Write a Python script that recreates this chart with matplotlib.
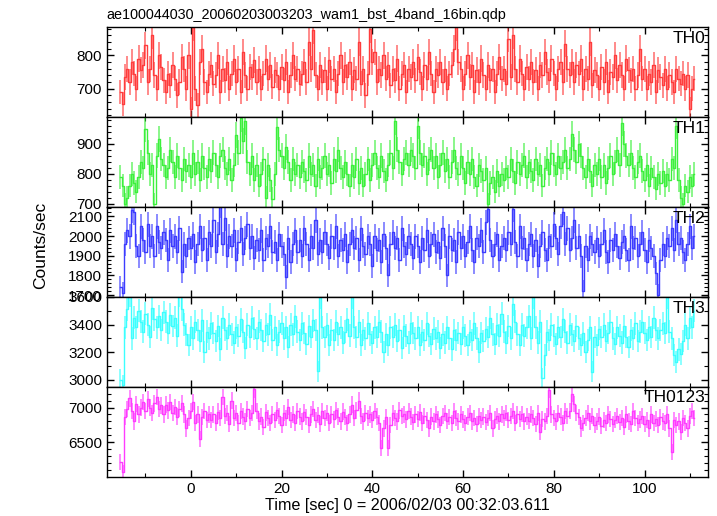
"""WAM burst light curve, 4 bands + sum, 0.5 s bins"""
import numpy as np
import matplotlib
matplotlib.use("Agg")
import matplotlib.pyplot as plt
from matplotlib.ticker import MultipleLocator

plt.rcParams['font.family'] = ['Liberation Sans', 'DejaVu Sans']

TITLE = "ae100044030_20060203003203_wam1_bst_4band_16bin.qdp"
XLABEL = "Time [sec] 0 = 2006/02/03 00:32:03.611"
T0 = -15.5   # first bin centre
DT = 0.5     # bin width

th0 = [
    690, 655, 735, 760, 720, 780, 745, 700, 790, 755,
    770, 830, 720, 760, 860, 740, 700, 800, 765, 725,
    690, 745, 710, 770, 730, 680, 720, 795, 760, 700,
    800, 640, 885, 700, 650, 780, 820, 720, 690, 745,
    770, 715, 740, 800, 690, 760, 725, 780, 700, 745,
    790, 720, 760, 690, 810, 740, 700, 765, 735, 785,
    720, 760, 700, 745, 790, 730, 770, 705, 755, 740,
    700, 765, 725, 780, 690, 740, 800, 730, 760, 715,
    745, 780, 720, 840, 760, 875, 740, 700, 770, 720,
    755, 700, 785, 730, 760, 690, 745, 800, 720, 770,
    735, 780, 700, 755, 730, 840, 715, 760, 680, 745,
    880, 780, 810, 720, 760, 740, 800, 730, 770, 710,
    760, 725, 790, 700, 745, 770, 690, 760, 735, 780,
    725, 795, 750, 700, 770, 730, 810, 745, 690, 760,
    740, 780, 720, 760, 700, 745, 770, 820, 885, 780,
    760, 700, 745, 800, 735, 770, 690, 755, 720, 790,
    740, 700, 770, 725, 760, 690, 745, 795, 730, 760,
    715, 850, 735, 860, 760, 720, 790, 745, 700, 765,
    730, 780, 720, 755, 700, 770, 740, 810, 750, 725,
    790, 745, 700, 760, 780, 720, 835, 760, 740, 780,
    720, 770, 745, 790, 700, 760, 730, 840, 710, 755,
    740, 700, 765, 720, 780, 690, 750, 735, 800, 725,
    770, 740, 700, 790, 755, 725, 760, 700, 740, 820,
    730, 760, 700, 745, 720, 770, 690, 755, 735, 710,
    760, 700, 740, 720, 690, 760, 730, 715, 745, 700,
    740, 640, 700, 730,
]

th1 = [
    790, 760, 700, 720, 760, 800, 770, 740, 790, 840,
    820, 950, 870, 800, 830, 700, 860, 917, 850, 830,
    790, 820, 880, 840, 790, 860, 820, 780, 850, 810,
    830, 790, 870, 800, 840, 780, 860, 820, 790, 850,
    810, 870, 830, 790, 860, 880, 820, 800, 850, 780,
    830, 930, 870, 985, 910, 975, 840, 800, 860, 780,
    830, 760, 800, 850, 720, 830, 780, 717, 800, 955,
    880, 860, 820, 890, 840, 780, 850, 800, 830, 790,
    840, 810, 780, 860, 800, 830, 760, 850, 790, 820,
    860, 800, 830, 770, 850, 810, 880, 820, 790, 840,
    800, 760, 830, 790, 850, 770, 820, 760, 800, 850,
    780, 830, 870, 820, 790, 860, 810, 780, 830, 870,
    820, 975, 880, 840, 800, 850, 870, 830, 880, 860,
    820, 961, 870, 830, 860, 800, 850, 880, 820, 860,
    790, 830, 870, 810, 850, 790, 840, 880, 820, 800,
    860, 820, 770, 840, 800, 850, 790, 760, 830, 810,
    780, 820, 700, 770, 790, 740, 810, 760, 800, 780,
    820, 790, 850, 810, 770, 840, 800, 830, 860, 790,
    840, 810, 780, 850, 800, 830, 760, 820, 850, 800,
    870, 830, 800, 860, 820, 840, 880, 820, 850, 933,
    880, 840, 900, 860, 820, 790, 850, 810, 760, 830,
    800, 850, 790, 830, 770, 820, 860, 800, 840, 880,
    830, 969, 900, 860, 830, 870, 820, 790, 840, 860,
    810, 780, 830, 760, 820, 790, 750, 800, 770, 810,
    760, 800, 780, 850, 820, 961, 780, 720, 700, 760,
    740, 790, 760, 800,
]

th2 = [
    1740, 1710, 1960, 2030, 2000, 2130, 2120, 1950, 1900, 2050,
    1980, 1920, 2060, 1950, 2000, 1900, 2050, 1970, 1940, 2020,
    1980, 1880, 2030, 1950, 2000, 1920, 2040, 1820, 1960, 1900,
    1990, 1940, 2010, 1870, 1960, 2050, 1930, 1990, 1880, 2020,
    1950, 2080, 1920, 2010, 2155, 1960, 2090, 1900, 2000, 1950,
    2030, 1880, 1970, 2040, 1910, 1990, 2060, 1940, 2000, 1890,
    1980, 1930, 2030, 1880, 1990, 1950, 2050, 1920, 1970, 1880,
    2010, 1950, 1910, 1792, 1990, 1870, 1960, 2030, 1920, 1980,
    1900, 2040, 1960, 1880, 2000, 1940, 2080, 1910, 1980, 1920,
    2020, 1960, 1890, 2000, 1940, 2050, 1900, 1980, 1930, 2010,
    1870, 1960, 2030, 1940, 1990, 1880, 2040, 1950, 1910, 2000,
    1960, 1850, 2000, 1930, 1980, 1870, 2010, 1940, 1800, 1960,
    2020, 1940, 1990, 1880, 2040, 1950, 1910, 2000, 1960, 1890,
    2000, 1950, 1870, 1990, 1930, 2030, 1900, 1960, 2010, 1920,
    1970, 1890, 2040, 1950, 1800, 2000, 1930, 1980, 1870, 2020,
    1940, 2000, 1900, 1970, 2050, 1930, 1870, 1990, 1950, 2030,
    1920, 2070, 2139, 1980, 1900, 1960, 2010, 1880, 1950, 1990,
    1930, 2020, 1960, 2139, 1970, 1900, 2050, 1940, 1990, 1880,
    1960, 2010, 1900, 1980, 1850, 1950, 2020, 1930, 1880, 2000,
    1950, 2060, 1990, 1910, 2050, 2120, 1960, 2040, 1930, 1990,
    2080, 1940, 2000, 1900, 1720, 1950, 1880, 2000, 1960, 1920,
    1990, 1900, 1960, 2030, 1920, 1870, 1980, 1930, 2010, 1950,
    1890, 1970, 2000, 1930, 1880, 2050, 1940, 1990, 1900, 1960,
    2020, 1930, 1870, 1980, 1940, 1900, 1810, 1700, 1880, 1960,
    1900, 1990, 1950, 2040, 1930, 2080, 1960, 1990, 1920, 1880,
    1960, 2050, 1940, 2000,
]

th3 = [
    3000, 2960, 3380, 3510, 3610, 3300, 3450, 3380, 3500, 3420,
    3350, 3480, 3400, 3310, 3520, 3440, 3380, 3460, 3360, 3490,
    3420, 3340, 3470, 3390, 3450, 3320, 3610, 3510, 3400, 3330,
    3250, 3380, 3300, 3420, 3360, 3280, 3430, 3200, 3350, 3300,
    3410, 3340, 3280, 3390, 3220, 3450, 3360, 3300, 3400, 3330,
    3270, 3380, 3320, 3440, 3350, 3230, 3400, 3310, 3450, 3370,
    3300, 3420, 3360, 3280, 3400, 3330, 3470, 3290, 3380, 3250,
    3350, 3410, 3300, 3380, 3240, 3400, 3330, 3460, 3350, 3290,
    3410, 3340, 3260, 3390, 3310, 3430, 3360, 3062, 3600, 3380,
    3310, 3400, 3250, 3360, 3290, 3420, 3330, 3380, 3270, 3350,
    3440, 3320, 3600, 3380, 3310, 3420, 3250, 3360, 3300, 3410,
    3330, 3270, 3380, 3310, 3420, 3350, 3200, 3330, 3250, 3380,
    3310, 3400, 3280, 3360, 3230, 3390, 3320, 3270, 3410, 3340,
    3300, 3380, 3250, 3350, 3290, 3410, 3320, 3260, 3370, 3300,
    3350, 3230, 3330, 3270, 3380, 3300, 3220, 3360, 3290, 3340,
    3260, 3380, 3320, 3250, 3350, 3290, 3410, 3300, 3200, 3340,
    3280, 3370, 3310, 3450, 3330, 3260, 3400, 3320, 3480, 3350,
    3270, 3390, 3300, 3550, 3420, 3330, 3250, 3400, 3320, 3380,
    3460, 3300, 3600, 3380, 3270, 3420, 3012, 3180, 3350, 3290,
    3400, 3320, 3260, 3380, 3310, 3440, 3350, 3270, 3400, 3330,
    3280, 3390, 3300, 3250, 3340, 3200, 3290, 3380, 3060, 3310,
    3250, 3370, 3310, 3400, 3280, 3340, 3420, 3300, 3260, 3380,
    3320, 3270, 3390, 3310, 3240, 3360, 3300, 3410, 3280, 3350,
    3420, 3340, 3290, 3380, 3310, 3450, 3360, 3300, 3360, 3410,
    3340, 3600, 3350, 3300, 3180, 3130, 3220, 3190, 3280, 3400,
    3300, 3450, 3380, 3500,
]

th0123 = [
    6215, 6070, 6860, 6980, 7130, 6950, 6800, 7050, 6900, 7000,
    7080, 6950, 7120, 7000, 6920, 7060, 7150, 6980, 7030, 6900,
    7040, 6960, 7080, 6920, 7010, 6870, 6980, 7060, 6900, 6700,
    6850, 6950, 7080, 6780, 6900, 6550, 6860, 6950, 6820, 6900,
    6820, 6900, 6780, 6940, 6850, 7150, 6880, 6920, 6760, 7100,
    6850, 6920, 6780, 6950, 6870, 6800, 6980, 6850, 6920, 7260,
    6950, 6800, 6870, 6720, 6930, 6850, 6780, 6900, 6820, 6960,
    6880, 6750, 6920, 6850, 7010, 6820, 6900, 6780, 6950, 6870,
    6800, 6930, 6860, 6750, 6900, 6980, 6820, 6890, 6760, 6950,
    6850, 6920, 6780, 6900, 6830, 6960, 6870, 6800, 6940, 6860,
    6780, 6900, 7040, 6850, 6960, 7100, 6880, 6800, 6920, 6850,
    6900, 6820, 6950, 6870, 6780, 6420, 6700, 6860, 6420, 6750,
    6920, 6850, 6800, 6960, 6880, 6900, 6830, 6950, 6870, 6790,
    6900, 6840, 6930, 6780, 6880, 6820, 6700, 6870, 6800, 6900,
    6830, 6750, 6880, 6920, 6810, 6860, 6780, 6950, 6850, 6800,
    6900, 6830, 6780, 6870, 6920, 6800, 6850, 6760, 6880, 6820,
    6870, 6790, 6850, 6920, 6700, 6830, 6880, 6800, 6900, 6850,
    6920, 6820, 6880, 6950, 6780, 6900, 6840, 6910, 6800, 6870,
    6810, 6900, 6850, 6760, 6920, 6650, 6840, 6800, 6880, 7250,
    6900, 6850, 6800, 6920, 6870, 6780, 6950, 6880, 6950, 7200,
    7050, 6920, 6860, 6700, 6780, 6850, 6920, 6800, 6880, 6750,
    6800, 6870, 6730, 6820, 6780, 6900, 6840, 6760, 6820, 6880,
    6790, 6850, 6720, 6900, 6800, 6760, 6950, 6850, 6780, 6830,
    6880, 6760, 6820, 6700, 6900, 6780, 6840, 6750, 6860, 6800,
    6780, 6900, 6700, 6360, 6820, 6750, 6800, 6650, 6850, 6780,
    6700, 6880, 6950, 6850,
]

bands = [
    ("TH0", th0, "#ff3c3c", (614, 884), 100, 20),
    ("TH1", th1, "#3cf03c", (689, 989), 100, 20),
    ("TH2", th2, "#3c3cff", (1691, 2147), 100, 20),
    ("TH3", th3, "#3cffff", (2950, 3600), 200, 100),
    ("TH0123", th0123, "#ff3cff", (6008, 7297), 500, 100),
]

fig, axes = plt.subplots(5, 1, sharex=True, figsize=(7.17, 5.16), dpi=100)
fig.subplots_adjust(left=0.149, right=0.9875, top=0.947, bottom=0.0762, hspace=0)

for ax, (name, vals, col, ylim, major, minor) in zip(axes, bands):
    y = np.array(vals, dtype=float)
    t = T0 + DT * np.arange(len(y))
    err = np.sqrt(y / DT)   # poisson error on the rate
    ax.errorbar(t, y, yerr=err, fmt='none', ecolor=col, elinewidth=1.4,
                alpha=0.6, capsize=0)
    ax.step(t, y, where='mid', color=col, lw=1.0)
    ax.set_ylim(*ylim)
    ax.yaxis.set_major_locator(MultipleLocator(major))
    ax.yaxis.set_minor_locator(MultipleLocator(minor))
    ax.xaxis.set_major_locator(MultipleLocator(20))
    ax.xaxis.set_minor_locator(MultipleLocator(10))
    ax.tick_params(which='both', direction='in', top=True, right=True,
                   labelsize=11)
    ax.tick_params(which='major', length=5, width=1)
    ax.tick_params(which='minor', length=3, width=0.8)
    for s in ax.spines.values():
        s.set_linewidth(1)
    ax.text(0.995, 0.96, name, transform=ax.transAxes, ha='right', va='top',
            fontsize=12.5)

axes[-1].set_xlim(-18.5, 114)
axes[-1].set_xlabel(XLABEL, fontsize=11.6, labelpad=2)
axes[0].set_title(TITLE, loc='left', fontsize=10.4, pad=6)
fig.text(0.057, 0.525, "Counts/sec", rotation=90, ha='center', va='center',
         fontsize=12.5)

fig.savefig("out.png")
